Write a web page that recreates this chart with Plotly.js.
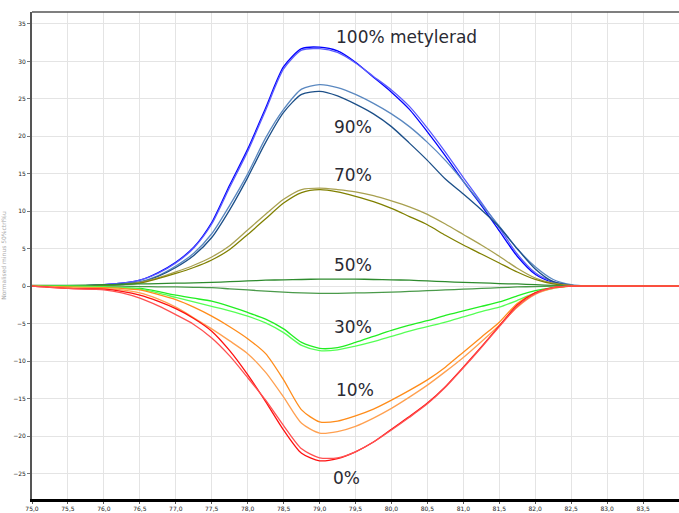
<!DOCTYPE html>
<html>
<head>
<meta charset="utf-8">
<script src="https://cdn.plot.ly/plotly-3.0.1.min.js"></script>
<style>html,body{margin:0;padding:0;background:#fff;}#chart{width:679px;height:513px;}</style>
</head>
<body>
<div id="chart"></div>
<script>
// Temperature (°C)
const temps = [75, 75.5, 76, 76.25, 76.5, 76.75, 77, 77.25, 77.5, 77.75, 78, 78.25, 78.5, 78.75, 79, 79.25, 79.5, 79.75, 80, 80.25, 80.5, 80.75, 81, 81.25, 81.5, 81.75, 82, 82.25, 82.5, 82.75, 83, 84];

const m100a = [0, 0, 0.2, 0.4, 0.8, 1.8, 3.2, 5.2, 8.5, 13.5, 18.3, 23.8, 29.3, 31.7, 31.9, 31.4, 29.9, 27.9, 25.9, 23.6, 20.6, 17.4, 14.0, 10.8, 7.4, 4.0, 1.6, 0.5, 0.1, 0, 0, 0];
const m100b = [0, 0, 0.2, 0.4, 0.8, 1.7, 3.1, 5.1, 8.3, 13.2, 18.0, 23.5, 29.0, 31.5, 31.7, 31.2, 29.8, 28.0, 26.2, 24.0, 21.1, 17.9, 14.5, 11.2, 7.8, 4.3, 1.8, 0.6, 0.1, 0, 0, 0];
const m90a  = [0, 0, 0.1, 0.3, 0.6, 1.4, 2.7, 4.4, 7.0, 10.8, 15.0, 19.8, 23.6, 26.3, 26.9, 26.5, 25.6, 24.4, 23.0, 21.3, 19.2, 16.8, 14.0, 11.0, 8.0, 5.0, 2.6, 0.9, 0.2, 0, 0, 0];
const m90b  = [0, 0, 0.1, 0.3, 0.5, 1.3, 2.5, 4.1, 6.5, 10.2, 14.5, 19.2, 23.2, 25.6, 26.0, 25.4, 24.3, 23.0, 21.3, 19.1, 16.8, 14.3, 12.3, 10.2, 7.9, 5.0, 2.3, 0.6, 0.1, 0, 0, 0];
const m70a  = [0, 0, 0.1, 0.2, 0.5, 1.1, 1.9, 2.8, 3.9, 5.4, 7.5, 9.6, 11.6, 12.9, 13.1, 12.9, 12.6, 12.1, 11.4, 10.6, 9.6, 8.3, 6.9, 5.5, 4.0, 2.4, 1.1, 0.4, 0.1, 0, 0, 0];
const m70b  = [0, 0, 0.1, 0.2, 0.4, 1.0, 1.7, 2.5, 3.5, 4.9, 6.9, 9.0, 11.1, 12.5, 12.9, 12.6, 12.0, 11.3, 10.4, 9.3, 8.2, 6.8, 5.5, 4.3, 3.1, 1.9, 0.9, 0.3, 0.05, 0, 0, 0];
const m50a  = [0.1, 0.1, 0.2, 0.25, 0.3, 0.35, 0.4, 0.45, 0.5, 0.6, 0.7, 0.8, 0.85, 0.9, 0.95, 0.95, 0.95, 0.9, 0.85, 0.8, 0.7, 0.6, 0.5, 0.45, 0.35, 0.3, 0.2, 0.1, 0.05, 0, 0, 0];
const m50b  = [0, 0, 0, 0, -0.05, -0.08, -0.1, -0.15, -0.2, -0.35, -0.5, -0.65, -0.8, -0.9, -0.95, -0.95, -0.9, -0.85, -0.8, -0.7, -0.6, -0.5, -0.4, -0.3, -0.2, -0.1, -0.05, 0, 0, 0, 0, 0];
const m30a  = [0, 0, -0.1, -0.2, -0.3, -0.7, -1.2, -1.6, -2.0, -2.7, -3.5, -4.4, -5.7, -7.5, -8.3, -8.2, -7.5, -6.7, -5.9, -5.2, -4.6, -3.9, -3.3, -2.7, -2.1, -1.3, -0.6, -0.2, 0, 0, 0, 0];
const m30b  = [0, 0, -0.1, -0.2, -0.4, -0.9, -1.5, -2.1, -2.7, -3.3, -4.0, -4.9, -6.2, -7.9, -8.6, -8.5, -8.0, -7.4, -6.7, -6.0, -5.4, -4.8, -4.1, -3.4, -2.8, -1.9, -0.9, -0.3, 0, 0, 0, 0];
const m10a  = [0, -0.1, -0.2, -0.3, -0.5, -1.1, -1.8, -2.8, -4.0, -5.4, -7.0, -9.0, -12.5, -16.5, -18.1, -18.0, -17.3, -16.4, -15.2, -13.9, -12.5, -10.8, -8.8, -6.8, -4.8, -2.3, -0.9, -0.2, 0, 0, 0, 0];
const m10b  = [0, -0.2, -0.3, -0.5, -0.9, -1.7, -2.8, -4.2, -5.7, -7.3, -9.0, -11.5, -14.8, -18.3, -19.6, -19.4, -18.7, -17.6, -16.3, -14.8, -13.2, -11.4, -9.5, -7.4, -5.2, -2.8, -1.1, -0.3, 0, 0, 0, 0];
const m0a   = [0, -0.3, -0.4, -0.7, -1.2, -2.0, -3.0, -4.3, -6.0, -8.6, -11.8, -15.4, -19.2, -22.3, -23.3, -23.0, -22.1, -20.8, -19.1, -17.4, -15.6, -13.4, -10.8, -8.1, -5.3, -2.5, -0.9, -0.2, 0, 0, 0, 0];
const m0b   = [0, -0.3, -0.5, -0.9, -1.6, -2.6, -3.8, -5.1, -6.9, -9.3, -12.2, -15.2, -18.6, -21.7, -22.9, -22.9, -22.1, -20.8, -19.2, -17.5, -15.7, -13.5, -10.9, -8.2, -5.4, -2.7, -1.0, -0.2, 0, 0, 0, 0];

const series = [
  {y: m100a, color: '#0000ff'}, {y: m100b, color: '#5a5aff'},
  {y: m90a, color: '#5a88c0'}, {y: m90b, color: '#1c4f88'},
  {y: m70a, color: '#a8a050'}, {y: m70b, color: '#808000'},
  {y: m50a, color: '#2e8b2e'}, {y: m50b, color: '#4a9a4a'},
  {y: m30a, color: '#22ee22'}, {y: m30b, color: '#55ff55'},
  {y: m10a, color: '#ff8c1a'}, {y: m10b, color: '#ffa050'},
  {y: m0a, color: '#ff1010'}, {y: m0b, color: '#ff5050'}
];

const labelText = ['100% metylerad', '90%', '70%', '50%', '30%', '10%', '0%'];
const labelX = [80.21, 79.46, 79.46, 79.46, 79.46, 79.49, 79.38];
const labelY = [33.2, 21.3, 14.8, 2.8, -5.5, -13.9, -25.6];

const traces = series.map(s => ({
  x: temps, y: s.y, type: 'scatter', mode: 'lines',
  line: {color: s.color, width: 1.3, shape: 'spline', smoothing: 0.7},
  hoverinfo: 'skip', showlegend: false
}));

const annotations = labelText.map((t, i) => ({
  x: labelX[i], y: labelY[i], xref: 'x', yref: 'y', text: t, showarrow: false,
  font: {family: 'DejaVu Sans, sans-serif', size: 17, color: '#2a2a33'},
  xanchor: 'center', yanchor: 'middle'
}));

const layout = {
  width: 679, height: 513,
  margin: {l: 32, r: 0, t: 12, b: 14},
  paper_bgcolor: '#fff', plot_bgcolor: '#fff',
  separators: ', ',
  showlegend: false,
  xaxis: {
    range: [75, 84], dtick: 0.5, tick0: 75, tickformat: '.1f',
    showgrid: true, gridcolor: '#e4e4e4', gridwidth: 1,
    zeroline: false, showline: true, linecolor: '#000', linewidth: 3,
    ticks: 'outside', ticklen: 2, tickcolor: '#555',
    tickfont: {family: 'DejaVu Sans, sans-serif', size: 6, color: '#222'}
  },
  yaxis: {
    range: [-28.4, 36.6], dtick: 5, tick0: 0,
    showgrid: true, gridcolor: '#e4e4e4', gridwidth: 1,
    zeroline: false, showline: true, linecolor: '#555', linewidth: 2,
    ticks: 'outside', ticklen: 3, tickcolor: '#777',
    tickfont: {family: 'DejaVu Sans, sans-serif', size: 6, color: '#222'},
    title: {text: 'Normalised minus 50%ctrl%u', standoff: 6,
            font: {family: 'DejaVu Sans, sans-serif', size: 6, color: '#aaaaaa'}}
  },
  shapes: [{type: 'line', xref: 'paper', yref: 'paper', x0: 0, x1: 1, y0: 1, y1: 1,
            line: {color: '#555', width: 1.5}}],
  annotations: annotations
};

Plotly.newPlot('chart', traces, layout, {displayModeBar: false, staticPlot: true});
</script>
</body>
</html>
